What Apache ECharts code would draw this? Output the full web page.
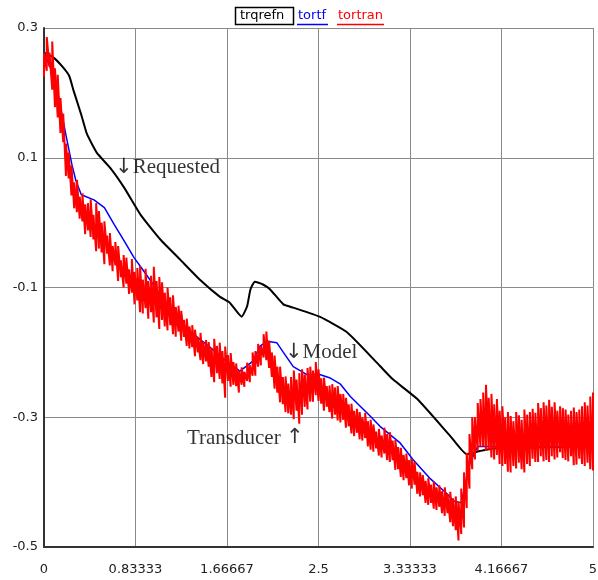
<!DOCTYPE html>
<html>
<head>
<meta charset="utf-8">
<title>trqrefn / tortf / tortran</title>
<script src="https://cdn.jsdelivr.net/npm/echarts@6/dist/echarts.min.js"></script>
<style>
  html, body { margin: 0; padding: 0; background: #fff; }
  #main { width: 598px; height: 580px; }
</style>
</head>
<body>
<div id="main"></div>
<script>
// tick labels
const xTickLabels = ['0', '0.83333', '1.66667', '2.5', '3.33333', '4.16667', '5'];
const yTickLabels = ['-0.5', '-0.3', '-0.1', '0.1', '0.3'];

// requested torque (black)
const trqrefn = [
  [0, 0.262], [0.09, 0.254], [0.17, 0.24], [0.23, 0.226], [0.27, 0.203], [0.34, 0.166],
  [0.39, 0.137], [0.48, 0.108], [0.61, 0.083], [0.73, 0.054], [0.88, 0.012], [1.06, -0.026],
  [1.24, -0.057], [1.42, -0.088], [1.6, -0.114], [1.69, -0.123], [1.8, -0.145], [1.85, -0.129],
  [1.88, -0.103], [1.92, -0.091], [1.99, -0.095], [2.06, -0.103], [2.18, -0.126], [2.27, -0.131],
  [2.51, -0.145], [2.76, -0.169], [3.06, -0.221], [3.18, -0.242], [3.4, -0.272], [3.7, -0.329],
  [3.85, -0.357], [3.97, -0.352], [4.09, -0.348], [5, -0.345]
];

// model torque (blue)
const tortf = [
  [0, 0.262], [0.1, 0.222], [0.2, 0.135], [0.255, 0.089], [0.29, 0.065], [0.34, 0.043],
  [0.455, 0.035], [0.55, 0.023], [0.64, -0.003], [0.73, -0.028], [0.82, -0.054], [0.88, -0.068],
  [0.965, -0.088], [1.1, -0.122], [1.22, -0.146], [1.31, -0.165], [1.42, -0.18], [1.51, -0.192],
  [1.67, -0.215], [1.785, -0.229], [1.9, -0.214], [1.97, -0.19], [2.03, -0.183], [2.12, -0.185],
  [2.18, -0.2], [2.27, -0.222], [2.39, -0.234], [2.51, -0.234], [2.6, -0.239], [2.7, -0.249],
  [2.79, -0.268], [2.88, -0.283], [2.97, -0.298], [3.06, -0.314], [3.24, -0.339], [3.36, -0.365],
  [3.52, -0.395], [3.67, -0.418], [3.73, -0.429], [3.8, -0.432], [3.88, -0.37], [3.95, -0.345],
  [5, -0.345]
];

// transducer torque (red), noisy: top and bottom of each spike, every 0.025
const tortranStep = 0.025;
const tortranHigh = [
  0.262, 0.286, 0.262, 0.279, 0.238, 0.228, 0.192, 0.168, 0.122, 0.108,
  0.088, 0.062, 0.066, 0.040, 0.045, 0.028, 0.030, 0.036, 0.012, 0.030,
  0.018, 0.000, 0.002, -0.020, -0.016, -0.036, -0.030, -0.036, -0.058, -0.050,
  -0.054, -0.072, -0.056, -0.076, -0.070, -0.067, -0.088, -0.071, -0.090, -0.082,
  -0.068, -0.090, -0.084, -0.092, -0.108, -0.100, -0.115, -0.112, -0.130, -0.128,
  -0.136, -0.150, -0.148, -0.160, -0.158, -0.165, -0.176, -0.170, -0.184, -0.181,
  -0.184, -0.193, -0.179, -0.190, -0.185, -0.198, -0.191, -0.204, -0.201, -0.215,
  -0.217, -0.228, -0.223, -0.230, -0.216, -0.220, -0.200, -0.198, -0.187, -0.190,
  -0.172, -0.168, -0.182, -0.200, -0.205, -0.222, -0.222, -0.238, -0.237, -0.248,
  -0.238, -0.228, -0.242, -0.232, -0.226, -0.234, -0.224, -0.222, -0.228, -0.215,
  -0.226, -0.240, -0.239, -0.252, -0.251, -0.249, -0.254, -0.252, -0.264, -0.264,
  -0.270, -0.280, -0.279, -0.290, -0.287, -0.292, -0.300, -0.293, -0.306, -0.304,
  -0.311, -0.322, -0.318, -0.328, -0.316, -0.326, -0.323, -0.336, -0.335, -0.346,
  -0.347, -0.358, -0.356, -0.366, -0.364, -0.369, -0.384, -0.385, -0.389, -0.398,
  -0.394, -0.404, -0.399, -0.408, -0.405, -0.414, -0.408, -0.418, -0.415, -0.425,
  -0.422, -0.430, -0.410, -0.385, -0.355, -0.326, -0.300, -0.300, -0.278, -0.272,
  -0.262, -0.250, -0.270, -0.264, -0.280, -0.272, -0.290, -0.283, -0.300, -0.292,
  -0.298, -0.306, -0.292, -0.297, -0.304, -0.288, -0.296, -0.292, -0.287, -0.293,
  -0.278, -0.286, -0.277, -0.282, -0.273, -0.284, -0.277, -0.290, -0.283, -0.286,
  -0.288, -0.296, -0.290, -0.285, -0.292, -0.288, -0.283, -0.277, -0.282, -0.268,
  -0.262
];
const tortranLow = [
  0.225, 0.234, 0.240, 0.205, 0.178, 0.162, 0.138, 0.124, 0.072, 0.068,
  0.042, 0.022, 0.016, 0.006, 0.002, -0.018, -0.012, -0.022, -0.026, -0.044,
  -0.040, -0.046, -0.064, -0.048, -0.066, -0.075, -0.066, -0.090, -0.084, -0.100,
  -0.094, -0.110, -0.108, -0.126, -0.120, -0.138, -0.140, -0.132, -0.148, -0.138,
  -0.154, -0.146, -0.164, -0.150, -0.160, -0.166, -0.158, -0.172, -0.176, -0.168,
  -0.182, -0.176, -0.190, -0.194, -0.192, -0.206, -0.200, -0.212, -0.218, -0.214,
  -0.222, -0.238, -0.246, -0.232, -0.241, -0.248, -0.270, -0.244, -0.253, -0.250,
  -0.252, -0.262, -0.250, -0.253, -0.244, -0.246, -0.236, -0.236, -0.222, -0.220,
  -0.208, -0.212, -0.224, -0.238, -0.256, -0.262, -0.277, -0.280, -0.292, -0.294,
  -0.296, -0.303, -0.290, -0.310, -0.296, -0.284, -0.288, -0.276, -0.276, -0.266,
  -0.275, -0.279, -0.290, -0.284, -0.292, -0.302, -0.296, -0.305, -0.308, -0.304,
  -0.316, -0.314, -0.325, -0.329, -0.324, -0.334, -0.336, -0.332, -0.345, -0.350,
  -0.353, -0.348, -0.359, -0.362, -0.356, -0.366, -0.369, -0.366, -0.381, -0.380,
  -0.392, -0.397, -0.394, -0.405, -0.410, -0.404, -0.418, -0.422, -0.420, -0.432,
  -0.435, -0.432, -0.441, -0.443, -0.438, -0.448, -0.452, -0.448, -0.462, -0.468,
  -0.474, -0.490, -0.480, -0.470, -0.440, -0.410, -0.380, -0.365, -0.352, -0.346,
  -0.345, -0.352, -0.350, -0.362, -0.365, -0.358, -0.372, -0.375, -0.372, -0.384,
  -0.385, -0.375, -0.379, -0.370, -0.380, -0.385, -0.372, -0.375, -0.364, -0.369,
  -0.369, -0.360, -0.368, -0.366, -0.369, -0.360, -0.365, -0.362, -0.354, -0.363,
  -0.366, -0.368, -0.360, -0.374, -0.373, -0.364, -0.372, -0.375, -0.370, -0.380,
  -0.382
];

// text notes on the plot: [x, y, arrow, text, arrow first?]
const notes = [
  [0.647, 0.085, '\u2193', 'Requested', true],
  [2.195, -0.2, '\u2193', 'Model', true],
  [1.302, -0.332, '\u2191', 'Transducer', false]
];

// zig-zag through the spikes: low -> high at each sample
const tortranLine = [];
tortranHigh.forEach((hi, i) => {
  const t = +(i * tortranStep).toFixed(4);
  tortranLine.push([t, tortranLow[i]], [t, hi]);
});

const chart = echarts.init(document.getElementById('main'));

const labelFont = { color: '#222', fontFamily: 'DejaVu Sans', fontSize: 13 };

const option = {
  animation: false,
  grid: { left: 44, right: 5, top: 28, bottom: 33, containLabel: false, outerBoundsMode: 'none' },
  xAxis: {
    type: 'value',
    min: 0,
    max: 5,
    interval: 5 / 6,
    axisLine: { show: true, onZero: false, lineStyle: { color: '#333', width: 2 } },
    axisTick: { show: false },
    axisLabel: {
      ...labelFont,
      margin: 16,
      formatter: (v) => xTickLabels[Math.round(v / (5 / 6))]
    },
    splitLine: { show: true, lineStyle: { color: '#8a8a8a', width: 1 } }
  },
  yAxis: {
    type: 'value',
    min: -0.5,
    max: 0.3,
    interval: 0.2,
    axisLine: { show: true, onZero: false, lineStyle: { color: '#333', width: 2 } },
    axisTick: { show: false },
    axisLabel: {
      ...labelFont,
      margin: 6,
      formatter: (v) => yTickLabels[Math.round((v + 0.5) / 0.2)]
    },
    splitLine: { show: true, lineStyle: { color: '#8a8a8a', width: 1 } }
  },
  // legend drawn by hand: boxed first entry, underlined others
  graphic: [
    { type: 'rect', shape: { x: 235.5, y: 7.5, width: 58, height: 17 },
      style: { fill: 'none', stroke: '#000', lineWidth: 1.5 } },
    { type: 'text', x: 240, y: 16,
      style: { text: 'trqrefn', fill: '#000', font: '13px "DejaVu Sans"', verticalAlign: 'middle' } },
    { type: 'text', x: 298, y: 16,
      style: { text: 'tortf', fill: '#0000ff', font: '13px "DejaVu Sans"', verticalAlign: 'middle' } },
    { type: 'line', shape: { x1: 297, y1: 24.5, x2: 328, y2: 24.5 },
      style: { stroke: '#0000ff', lineWidth: 1.5 } },
    { type: 'text', x: 338, y: 16,
      style: { text: 'tortran', fill: '#ff0000', font: '13px "DejaVu Sans"', verticalAlign: 'middle' } },
    { type: 'line', shape: { x1: 337, y1: 24.5, x2: 384, y2: 24.5 },
      style: { stroke: '#ff0000', lineWidth: 1.5 } }
  ],
  series: [
    {
      name: 'trqrefn',
      type: 'line',
      data: trqrefn,
      showSymbol: false,
      smooth: 0.15,
      lineStyle: { color: '#000', width: 2 },
      z: 2
    },
    {
      name: 'tortf',
      type: 'line',
      data: tortf,
      showSymbol: false,
      lineStyle: { color: '#0000ff', width: 1.5 },
      z: 3
    },
    {
      name: 'tortran',
      type: 'line',
      data: tortranLine,
      showSymbol: false,
      lineStyle: { color: '#ff0000', width: 2 },
      z: 4
    },
    {
      name: 'notes',
      type: 'scatter',
      symbolSize: 0,
      silent: true,
      data: notes.map((n) => ({
        value: [n[0], n[1]],
        name: n[4] ? '{a|' + n[2] + '}' + n[3] : n[3] + ' {a|' + n[2] + '}'
      })),
      label: {
        show: true,
        position: 'right',
        distance: 0,
        formatter: '{b}',
        color: '#000',
        fontFamily: '"Liberation Serif", "Times New Roman", serif',
        fontSize: 21,
        rich: {
          a: { fontFamily: '"DejaVu Sans"', fontSize: 21, color: '#000' }
        }
      },
      z: 6
    }
  ]
};

chart.setOption(option);
</script>
</body>
</html>
